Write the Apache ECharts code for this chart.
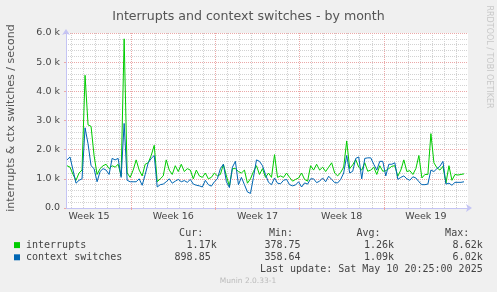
<!DOCTYPE html>
<html>
<head>
<meta charset="utf-8">
<script src="https://cdn.jsdelivr.net/npm/echarts@6/dist/echarts.min.js"></script>
<style>
html, body { margin: 0; padding: 0; background: #f0f0f0; }
#chart { width: 497px; height: 292px; }
</style>
</head>
<body>
<div id="chart"></div>
<script>
// x is in hours counted from Monday 7 Apr 2025 00:00 (start of week 15)
var axisStartHour = 38;
var axisEndHour = 840;
var sampleStartHour = 40;
var sampleStepHours = 6;

var weekStarts = [168, 336, 504, 672];
var weekCenters = [84, 252, 420, 588, 756];
var weekLabels = ['Week 15', 'Week 16', 'Week 17', 'Week 18', 'Week 19'];

var interrupts = [
    1450, 1400, 1150, 950, 1200, 1300, 4550, 2850, 2800, 1800, 1150, 1350, 1450, 1500, 1350, 1450, 1400, 1500, 1100, 5800, 1200, 1050, 1300,
    1650, 1300, 1100, 1500, 1550, 1800, 2150, 900, 1000, 1100, 1650, 1300, 1150, 1450, 1250, 1500, 1250, 1350, 1300, 1000, 1300, 1100,
    1050, 1200, 1000, 1050, 1200, 1100, 1150, 1500, 1100, 750, 1350, 1350, 1250, 1200, 1300, 850, 1000, 1250, 1450, 1150, 1350, 1050,
    1200, 1050, 1830, 1050, 1100, 1050, 1200, 1050, 920, 980, 1030, 1200, 980, 920, 1450, 1300, 1500, 1300, 1400, 1250, 1400, 1550, 1200,
    1100, 1220, 1400, 2300, 1350, 1480, 1660, 1400, 1300, 1550, 1260, 1300, 1400, 1150, 1450, 1260, 1280, 1350, 1430, 1450, 1090, 1300, 1650,
    1250, 1280, 1150, 1350, 1800, 1030, 1150, 1150, 2550, 1550, 1380, 1300, 1430, 850, 1450, 950, 1150, 1130, 1150, 1170
];
var contextSwitches = [
    1650, 1750, 1300, 850, 950, 1000, 2750, 2200, 1450, 1350, 900, 1250, 1350, 1300, 1150, 1700, 1650, 1700, 1050, 2900, 950, 900, 900,
    900, 1000, 780, 1150, 1550, 1700, 1800, 720, 800, 820, 900, 1000, 850, 920, 980, 900, 940, 880, 980, 820, 780, 760,
    720, 950, 800, 750, 900, 1000, 1350, 1500, 900, 700, 1400, 1600, 800, 1050, 800, 550, 500, 1050, 1650, 1600, 1450, 1150,
    880, 800, 1030, 850, 830, 950, 980, 800, 760, 790, 900, 720, 860, 820, 1000, 1000, 870, 920, 1030, 900, 1090, 980, 870,
    860, 980, 1200, 1800, 1200, 1260, 1700, 1750, 1000, 1700, 1720, 1720, 1500, 1300, 1600, 1600, 1100, 1500, 1500, 1550, 980, 1050, 1100,
    1000, 950, 1070, 1030, 900, 800, 800, 820, 1300, 1250, 1350, 1430, 1600, 820, 850, 780, 880, 880, 880, 899
];

var statHeaders = ['Cur:', 'Min:', 'Avg:', 'Max:'];
var interruptsStats = ['1.17k', '378.75', '1.26k', '8.62k'];
var contextStats = ['898.85', '358.64', '1.09k', '6.02k'];
var lastUpdate = 'Last update: Sat May 10 20:25:00 2025';

function toPoints(values) {
    return values.map(function (v, i) {
        return [sampleStartHour + i * sampleStepHours, v];
    });
}

var dayLines = [];
for (var h = 48; h < axisEndHour; h += 24) {
    dayLines.push(h);
}

var axisColor = '#c4c4f4';
var majorColor = '#eba8a8';
var minorColor = '#d2d2d2';
var mono = 'DejaVu Sans Mono';
var sans = 'DejaVu Sans';

// legend stats, munin style: a value without unit keeps a trailing space
var colRight = [216.7, 306.5, 394, 482.7];
var statTexts = [];
statHeaders.forEach(function (t, i) {
    statTexts.push({ type: 'text', x: colRight[i] - 13.5, y: 233.5,
        style: { text: t, font: '10px ' + mono, fill: '#444', align: 'right', verticalAlign: 'middle' } });
});
[interruptsStats, contextStats].forEach(function (row, r) {
    row.forEach(function (t, i) {
        var shift = /\d$/.test(t) ? 6 : 0;
        statTexts.push({ type: 'text', x: colRight[i] - shift, y: 245.3 + r * 12.2,
            style: { text: t, font: '10px ' + mono, fill: '#444', align: 'right', verticalAlign: 'middle' } });
    });
});

var myChart = echarts.init(document.getElementById('chart'));
var option = {
    backgroundColor: '#f0f0f0',
    animation: false,
    title: {
        text: 'Interrupts and context switches - by month',
        left: 'center',
        top: 5,
        textStyle: { fontFamily: sans, fontSize: 12.6, fontWeight: 'normal', color: '#555' }
    },
    legend: {
        orient: 'vertical',
        left: 14,
        top: 239,
        padding: 0,
        itemGap: 0,
        itemWidth: 6,
        itemHeight: 6,
        icon: 'rect',
        selectedMode: false,
        textStyle: { fontFamily: mono, fontSize: 10, color: '#444', lineHeight: 12.2, padding: [0, 0, 0, 1] },
        data: ['interrupts', 'context switches']
    },
    grid: {
        left: 66,
        top: 33,
        width: 402,
        height: 175,
        show: true,
        backgroundColor: '#ffffff',
        borderWidth: 0
    },
    xAxis: [
        {
            type: 'value',
            min: axisStartHour,
            max: axisEndHour,
            z: 1,
            axisLine: {
                show: true,
                symbol: ['none', 'arrow'],
                symbolSize: [6, 6],
                symbolOffset: [0, 4],
                lineStyle: { color: axisColor, width: 1 }
            },
            axisTick: { show: true, length: 2, customValues: weekStarts, lineStyle: { color: majorColor } },
            splitLine: { show: true, lineStyle: { color: majorColor, type: [1, 1], width: 1 } },
            axisLabel: {
                customValues: weekCenters,
                margin: 4,
                color: '#444',
                fontFamily: sans,
                fontSize: 9.5,
                formatter: function (v) { return weekLabels[weekCenters.indexOf(v)]; }
            }
        },
        {
            type: 'value',
            min: axisStartHour,
            max: axisEndHour,
            position: 'bottom',
            z: 0,
            axisLine: { show: false },
            axisTick: { show: false, customValues: dayLines },
            axisLabel: { show: false },
            splitLine: { show: true, lineStyle: { color: minorColor, type: [1, 1], width: 1 } }
        }
    ],
    yAxis: {
        type: 'value',
        min: 0,
        max: 6000,
        interval: 1000,
        z: 1,
        axisLine: {
            show: true,
            symbol: ['none', 'arrow'],
            symbolSize: [6, 6],
            symbolOffset: [0, 4],
            lineStyle: { color: axisColor, width: 1 }
        },
        axisTick: { show: true, length: 2, lineStyle: { color: majorColor } },
        splitLine: { show: true, lineStyle: { color: majorColor, type: [1, 1], width: 1 } },
        minorTick: { show: false, splitNumber: 5 },
        minorSplitLine: { show: true, lineStyle: { color: minorColor, type: [1, 1], width: 1 } },
        axisLabel: {
            margin: 6,
            color: '#444',
            fontFamily: sans,
            fontSize: 9.5,
            formatter: function (v) { return v === 0 ? '0.0' : (v / 1000).toFixed(1) + ' k'; }
        }
    },
    series: [
        {
            name: 'interrupts',
            type: 'line',
            xAxisIndex: 0,
            showSymbol: false,
            symbol: 'none',
            color: '#00cc00',
            lineStyle: { width: 1, color: '#00cc00' },
            data: toPoints(interrupts)
        },
        {
            name: 'context switches',
            type: 'line',
            xAxisIndex: 0,
            showSymbol: false,
            symbol: 'none',
            color: '#0066b3',
            lineStyle: { width: 1, color: '#0066b3' },
            data: toPoints(contextSwitches)
        }
    ],
    graphic: [
        { type: 'text', x: 11, y: 118, rotation: Math.PI / 2,
          style: { text: 'interrupts & ctx switches / second', font: '11px ' + sans, fill: '#555', align: 'center', verticalAlign: 'middle' } },
        { type: 'text', x: 489, y: 57, rotation: -Math.PI / 2,
          style: { text: 'RRDTOOL / TOBI OETIKER', font: '8px ' + sans, fill: '#c8c8c8', align: 'center', verticalAlign: 'middle' } },
        { type: 'text', x: 482.7, y: 269.5,
          style: { text: lastUpdate, font: '10px ' + mono, fill: '#444', align: 'right', verticalAlign: 'middle' } },
        { type: 'text', x: 248, y: 281,
          style: { text: 'Munin 2.0.33-1', font: '7.5px ' + sans, fill: '#bbbbbb', align: 'center', verticalAlign: 'middle' } }
    ].concat(statTexts)
};
myChart.setOption(option);
</script>
</body>
</html>
